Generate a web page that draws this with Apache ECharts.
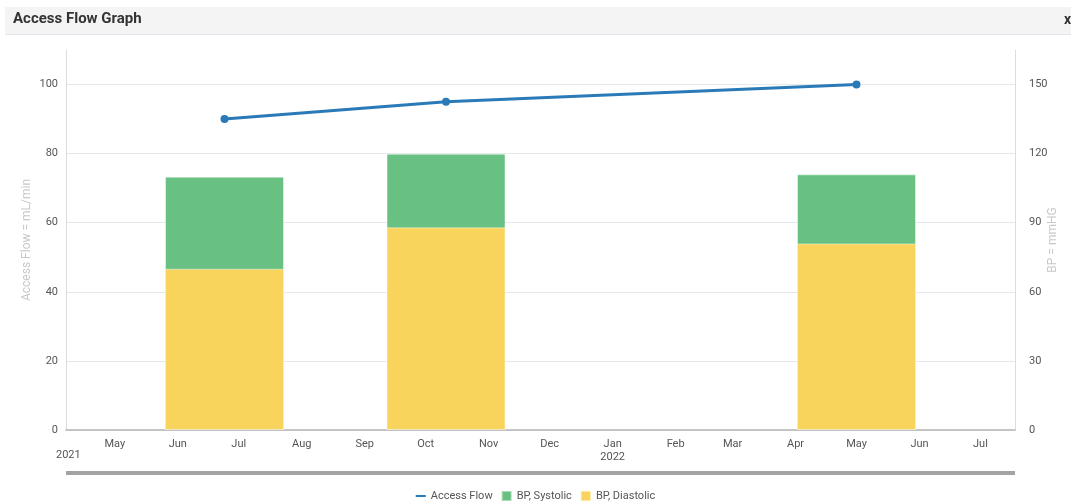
<!DOCTYPE html>
<html>
<head>
<meta charset="utf-8">
<script src="https://cdn.jsdelivr.net/npm/echarts@6/dist/echarts.min.js"></script>
<style>
  html, body { margin: 0; padding: 0; background: #fff; }
  #chart { width: 1071px; height: 502px; }
</style>
</head>
<body>
<div id="chart"></div>
<script>
// ---- data ----
const dates = ['2021-06-24', '2021-10-11', '2022-05-01'];
const accessFlow = [90, 95, 100];
const bpSystolic = [110, 120, 111];
const bpDiastolic = [70, 88, 81];
const monthNames = ['Jan', 'Feb', 'Mar', 'Apr', 'May', 'Jun', 'Jul', 'Aug', 'Sep', 'Oct', 'Nov', 'Dec'];
const leftTicks = [0, 20, 40, 60, 80, 100];
const rightTicks = [0, 30, 60, 90, 120, 150];
const xRange = ['2021-04-07', '2022-07-18'];
const startYearLabel = '2021';

const FONT = 'Roboto, "Noto Sans", sans-serif';
const chart = echarts.init(document.getElementById('chart'));
const ts = d => +echarts.number.parseDate(d);

function pairs(vals) { return dates.map((d, i) => [d, vals[i]]); }
function tsPairs(vals) { return dates.map((d, i) => [ts(d), vals[i]]); }

const option = {
  animation: false,
  textStyle: { fontFamily: FONT },
  title: {
    text: 'Access Flow Graph',
    left: 13, top: 12, padding: 0,
    textStyle: { fontFamily: FONT, fontSize: 15, fontWeight: 'bold', color: '#333' }
  },
  graphic: [
    { type: 'rect', z: -10, shape: { x: 5, y: 7, width: 1066, height: 28 }, style: { fill: '#f4f4f4' } },
    { type: 'rect', z: -9, shape: { x: 5, y: 34, width: 1066, height: 1 }, style: { fill: '#dfe5ec' } },
    { type: 'text', left: 1064, top: 13, style: { text: 'x', font: 'bold 14px ' + FONT, fill: '#333' } },
    { type: 'text', left: 56, top: 450, style: { text: startYearLabel, font: '11px ' + FONT, fill: '#555' } },
    { type: 'rect', shape: { x: 66, y: 471, width: 949, height: 4 }, style: { fill: '#a3a3a3' } }
  ],
  legend: {
    bottom: 0, left: 'center', padding: 0,
    itemWidth: 10, itemHeight: 10, itemGap: 8,
    textStyle: { fontFamily: FONT, fontSize: 11, color: '#555' },
    data: [
      { name: 'Access Flow', icon: 'path://M0,4L12,4L12,6.5L0,6.5Z' },
      { name: 'BP, Systolic', icon: 'rect' },
      { name: 'BP, Diastolic', icon: 'rect' }
    ]
  },
  grid: { left: 66, right: 56, top: 50, bottom: 72, outerBoundsMode: 'none', containLabel: false },
  xAxis: [
    {
      type: 'time',
      min: xRange[0], max: xRange[1],
      minInterval: 28 * 86400000, maxInterval: 31 * 86400000,
      axisLine: { lineStyle: { color: '#b5b5b5', width: 1.5 } },
      axisTick: { show: false },
      splitLine: { show: false },
      axisLabel: {
        color: '#555', fontSize: 11, margin: 8, lineHeight: 13, fontFamily: FONT,
        formatter: function (value) {
          const d = new Date(value);
          if (d.getDate() !== 1) return '';
          const m = monthNames[d.getMonth()];
          return d.getMonth() === 0 ? m + '\n' + d.getFullYear() : m;
        }
      }
    },
    {
      type: 'value', show: false,
      min: ts(xRange[0]), max: ts(xRange[1]),
      splitLine: { show: false }
    }
  ],
  yAxis: [
    {
      type: 'value', min: 0, max: 110, interval: 20,
      name: 'Access Flow = mL/min', nameLocation: 'middle', nameGap: 33, nameRotate: 90,
      nameMoveOverlap: false,
      nameTextStyle: { color: '#c8c8c8', fontSize: 12, fontFamily: FONT },
      axisLine: { show: true, lineStyle: { color: '#dcdcdc' } },
      axisTick: { show: false },
      axisLabel: {
        color: '#555', fontSize: 11, margin: 8, showMaxLabel: false,
        formatter: v => leftTicks.includes(v) ? String(v) : ''
      },
      splitLine: { lineStyle: { color: ['#e4e7eb', '#e4e7eb', '#e4e7eb', '#e4e7eb', '#e4e7eb', '#e4e7eb', 'rgba(0,0,0,0)'] } }
    },
    {
      type: 'value', min: 0, max: 165, interval: 30,
      name: 'BP = mmHG', nameLocation: 'middle', nameGap: 32, nameRotate: 90,
      nameMoveOverlap: false,
      nameTextStyle: { color: '#c8c8c8', fontSize: 12, fontFamily: FONT },
      axisLine: { show: true, lineStyle: { color: '#dcdcdc' } },
      axisTick: { show: false },
      axisLabel: {
        color: '#555', fontSize: 11, margin: 14, showMaxLabel: false,
        formatter: v => rightTicks.includes(v) ? String(v) : ''
      },
      splitLine: { show: false }
    }
  ],
  series: [
    {
      name: 'Access Flow', type: 'line', xAxisIndex: 0, yAxisIndex: 0, z: 5,
      data: pairs(accessFlow),
      symbol: 'circle', symbolSize: 8,
      itemStyle: { color: '#2a7ab8' },
      lineStyle: { color: '#2a7ab8', width: 3 }
    },
    {
      name: 'BP, Systolic', type: 'bar', xAxisIndex: 1, yAxisIndex: 1,
      data: tsPairs(bpSystolic),
      barWidth: 119, barGap: '-100%',
      itemStyle: { color: '#68c182', borderColor: 'rgba(255,255,255,0.45)', borderWidth: 1 }
    },
    {
      name: 'BP, Diastolic', type: 'bar', xAxisIndex: 1, yAxisIndex: 1,
      data: tsPairs(bpDiastolic),
      barWidth: 119, barGap: '-100%',
      itemStyle: { color: '#f9d45c', borderColor: 'rgba(255,255,255,0.45)', borderWidth: 1 }
    }
  ]
};
chart.setOption(option);
</script>
</body>
</html>
